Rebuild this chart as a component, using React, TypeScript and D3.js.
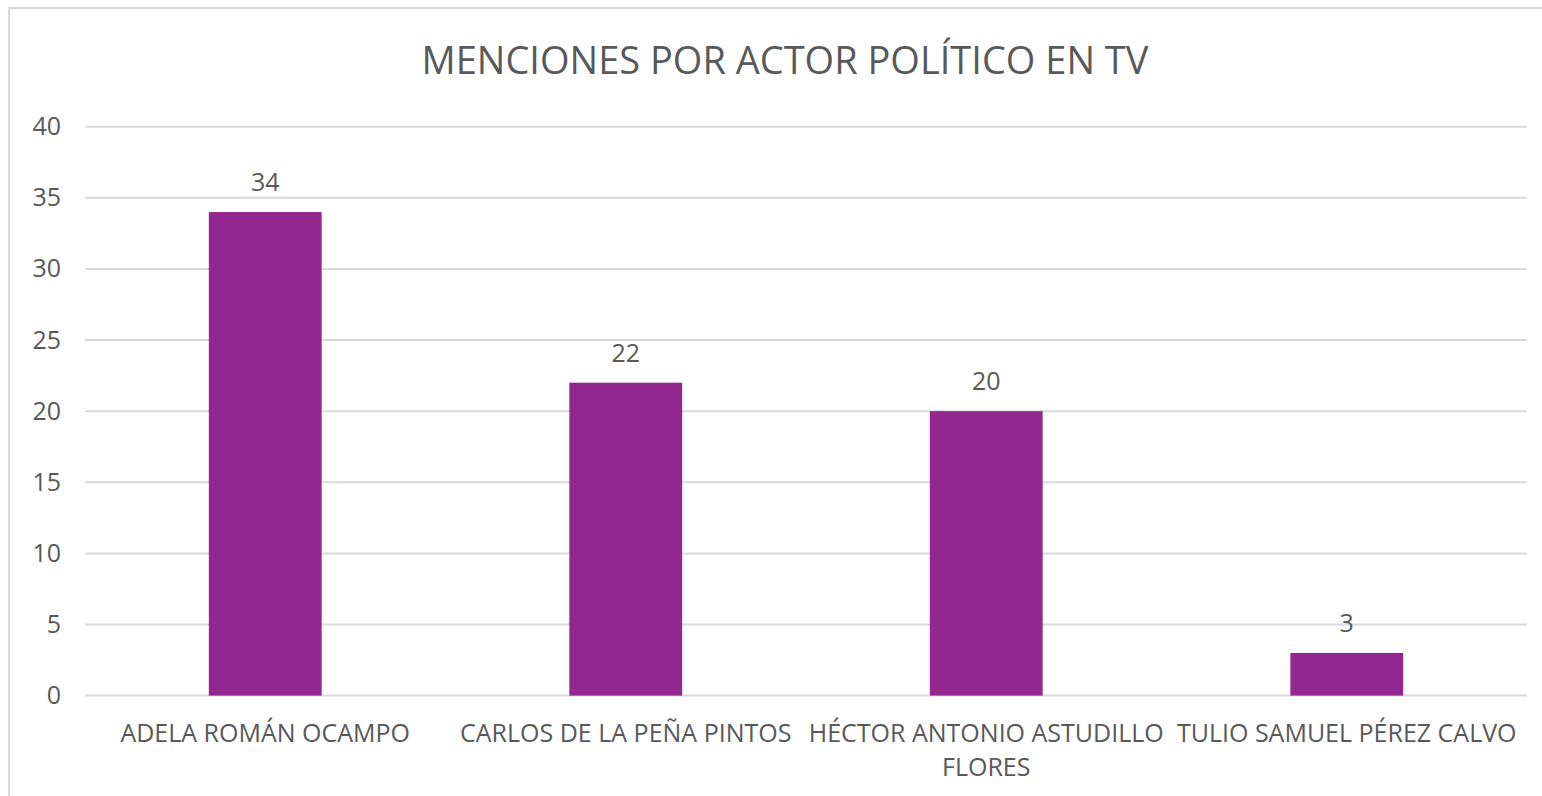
import React, { useEffect, useRef } from "react";
import * as d3 from "d3";

const title = "MENCIONES POR ACTOR POLÍTICO EN TV";
const categories = [
  "ADELA ROMÁN OCAMPO",
  "CARLOS DE LA PEÑA PINTOS",
  "HÉCTOR ANTONIO ASTUDILLO FLORES",
  "TULIO SAMUEL PÉREZ CALVO",
];
const values = [34, 22, 20, 3];
const yTicks = [0, 5, 10, 15, 20, 25, 30, 35, 40];

const W = 1542;
const H = 796;
const FONT = "'Open Sans', sans-serif";
const TEXT = "#595959";
const GRID = "#d9d9d9";
const BAR = "#92278F";

export default function App() {
  const ref = useRef<SVGSVGElement>(null);

  useEffect(() => {
    const svg = d3.select(ref.current);
    svg.selectAll("*").remove();

    const x0 = 85, x1 = 1527, yBase = 695.6, yTop = 126.7;
    const x = d3.scaleBand<string>().domain(categories).range([x0, x1]).paddingInner(0.687).paddingOuter(0.3435);
    const y = d3.scaleLinear().domain([0, 40]).range([yBase, yTop]);

    svg.append("rect").attr("width", W).attr("height", H).attr("fill", "#fff");
    // frame
    svg.append("rect")
      .attr("x", 9).attr("y", 8).attr("width", W + 20).attr("height", H + 20)
      .attr("fill", "none").attr("stroke", GRID).attr("stroke-width", 2);

    svg.append("text")
      .attr("x", (420 + 1150) / 2).attr("y", 74)
      .attr("text-anchor", "middle")
      .attr("font-family", FONT).attr("font-size", 38).attr("fill", TEXT)
      .text(title);

    const g = svg.append("g");
    g.selectAll("line.grid").data(yTicks).join("line")
      .attr("class", "grid")
      .attr("x1", x0).attr("x2", x1)
      .attr("y1", (d) => y(d)).attr("y2", (d) => y(d))
      .attr("stroke", GRID).attr("stroke-width", 2);

    g.selectAll("text.tick").data(yTicks).join("text")
      .attr("class", "tick")
      .attr("x", 61).attr("y", (d) => y(d) + 8.5)
      .attr("text-anchor", "end")
      .attr("font-family", FONT).attr("font-size", 25).attr("fill", TEXT)
      .text((d) => String(d));

    g.selectAll("rect.bar").data(values).join("rect")
      .attr("class", "bar")
      .attr("x", (_, i) => x(categories[i])!)
      .attr("width", x.bandwidth())
      .attr("y", (d) => y(d))
      .attr("height", (d) => y(0) - y(d))
      .attr("fill", BAR);

    g.selectAll("text.val").data(values).join("text")
      .attr("class", "val")
      .attr("x", (_, i) => x(categories[i])! + x.bandwidth() / 2)
      .attr("y", (d) => y(d) - 21)
      .attr("text-anchor", "middle")
      .attr("font-family", FONT).attr("font-size", 25).attr("fill", TEXT)
      .text((d) => String(d));

    const step = x.step();
    categories.forEach((c) => {
      const cx = x(c)! + x.bandwidth() / 2;
      const t = g.append("text")
        .attr("x", cx).attr("y", 742)
        .attr("text-anchor", "middle")
        .attr("font-family", FONT).attr("font-size", 25).attr("fill", TEXT);
      const words = c.split(" ");
      let line: string[] = [];
      let lineNo = 0;
      let ts = t.append("tspan").attr("x", cx).attr("y", 742);
      for (const w of words) {
        line.push(w);
        ts.text(line.join(" "));
        if ((ts.node() as SVGTSpanElement).getComputedTextLength() > step - 2 && line.length > 1) {
          line.pop();
          ts.text(line.join(" "));
          line = [w];
          lineNo++;
          ts = t.append("tspan").attr("x", cx).attr("y", 742 + lineNo * 34).text(w);
        }
      }
    });
  }, []);

  return (
    <svg
      ref={ref}
      width={W}
      height={H}
      style={{ position: "absolute", left: 0, top: 0, display: "block" }}
    />
  );
}
